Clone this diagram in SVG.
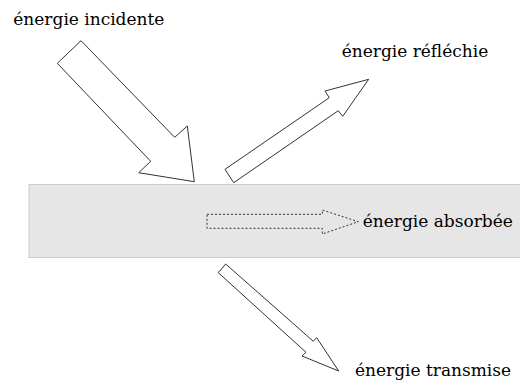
<svg xmlns="http://www.w3.org/2000/svg" width="520" height="383" viewBox="0 0 520 383">
<style>
.lbl{font-family:"DejaVu Serif",serif;font-size:17px;fill:#000}
.arr{fill:#fff;stroke:#333;stroke-width:1}
.dash{fill:none;stroke:#333;stroke-width:1;stroke-dasharray:2,2}
</style>
<rect width="520" height="383" fill="#fff"/>
<g id="materiau"><rect x="29" y="184.5" width="495" height="73" fill="#e6e6e6" stroke="#cccccc" stroke-width="1"/></g>
<g id="connectors">
<polygon id="fleche-incidente" class="arr" points="81,40.7 57.3,63.3 150.7,161.3 138.7,172.7 194.3,181.7 187.3,126 174.7,137.3"/>
<polygon id="fleche-reflechie" class="arr" points="233.7,182.7 225,169.3 329.3,97.7 325,91 368.7,79.3 342.7,116.3 338.3,110.7"/>
<polygon id="fleche-absorbee" class="dash" points="207,214.3 322.3,214.3 322.3,210 358.3,221.7 322.3,234 322.3,228.3 207,228.3"/>
<polygon id="fleche-transmise" class="arr" points="225.7,264 218.3,272.7 306,352.3 302,356 338.7,371 316.7,337.7 313.3,341.3"/>
</g>
<g id="incidente"><text class="lbl" x="13.3" y="25">énergie incidente</text></g>
<g id="reflechie"><text class="lbl" x="341.7" y="57.3">énergie réfléchie</text></g>
<g id="absorbee"><text class="lbl" x="362.7" y="226.7">énergie absorbée</text></g>
<g id="transmise"><text class="lbl" x="355" y="376">énergie transmise</text></g>
</svg>
